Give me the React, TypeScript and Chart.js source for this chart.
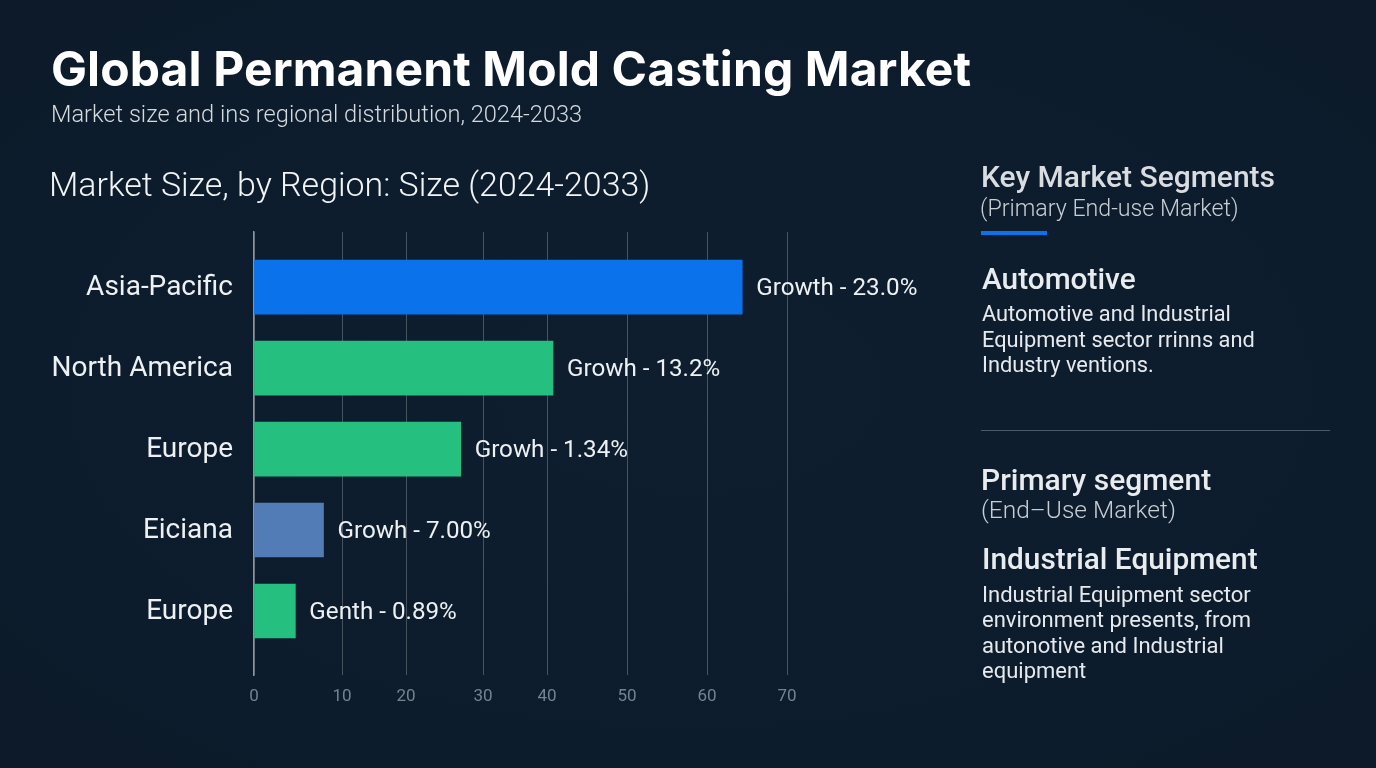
import { useEffect, useRef } from 'react';
import { Chart, LinearScale, registerables } from 'chart.js';

const regions = ['Asia-Pacific', 'North America', 'Europe', 'Eiciana', 'Europe'];
const marketSize = [64.4, 40.75, 27.1, 7.9, 4.7];
const growthLabels = ['Growth - 23.0%', 'Growh - 13.2%', 'Growh - 1.34%', 'Growh - 7.00%', 'Genth - 0.89%'];
const barColors = ['#0a72ea', '#25bf80', '#25bf80', '#527cb5', '#25bf80'];
const tickValues = [0, 10, 20, 30, 40, 50, 60, 70];

// the axis in the picture is not evenly spaced, these are the pixel offsets of its ticks
const tickOffsets = [0, 88, 152, 229, 293, 373, 453, 533];

const automotiveLines = ['Automotive and Industrial', 'Equipment sector rrinns and', 'Industry ventions.'];
const industrialLines = ['Industrial Equipment sector', 'environment presents, from', 'autonotive and Industrial', 'equipment'];

class UnevenScale extends LinearScale {
    static id = 'uneven';
    static defaults = LinearScale.defaults;

    getPixelForValue(value: number) {
        const step = Math.min(Math.max(Math.floor(value / 10), 0), tickOffsets.length - 2);
        const offset = tickOffsets[step] + ((value - step * 10) / 10) * (tickOffsets[step + 1] - tickOffsets[step]);
        return this.left + offset;
    }
}

Chart.register(...registerables, UnevenScale);

const growthLabelPlugin = {
    id: 'growthLabels',
    afterDatasetsDraw(chart: any) {
        const { ctx } = chart;
        ctx.save();
        ctx.font = '400 24.2px Roboto';
        ctx.fillStyle = '#eef1f4';
        ctx.textAlign = 'left';
        ctx.textBaseline = 'middle';
        chart.getDatasetMeta(0).data.forEach((bar: any, i: number) => {
            ctx.fillText(growthLabels[i], bar.x + 14, bar.y + 1.5);
        });
        ctx.restore();
    },
};

const Text = ({ x, y, size, weight = 400, color = '#e6e9ed', font = 'Roboto', spacing = 0, children }: any) => (
    <div
        style={{
            position: 'absolute',
            left: x,
            top: y - 20,
            height: 40,
            lineHeight: '40px',
            fontFamily: font,
            fontSize: size,
            fontWeight: weight,
            color,
            letterSpacing: spacing,
            whiteSpace: 'nowrap',
        }}
    >
        {children}
    </div>
);

const App = () => {
    const chartRef = useRef<HTMLCanvasElement>(null);

    useEffect(() => {
        document.body.style.margin = '0';
        if (!chartRef.current) return;
        const chart = new Chart(chartRef.current, {
            type: 'bar',
            data: {
                datasets: [
                    {
                        data: marketSize.map((value, i) => ({ x: value, y: i })),
                        backgroundColor: barColors,
                        barThickness: 54,
                    },
                ],
            },
            options: {
                indexAxis: 'y',
                animation: false,
                responsive: false,
                layout: { padding: { top: 232, right: 589, bottom: 0, left: 0 } },
                plugins: { legend: { display: false }, tooltip: { enabled: false } },
                scales: {
                    x: {
                        type: 'uneven',
                        position: 'bottom',
                        min: 0,
                        max: 70,
                        afterFit: (scale: any) => {
                            scale.height = 93;
                        },
                        afterBuildTicks: (scale: any) => {
                            scale.ticks = tickValues.map((value) => ({ value }));
                        },
                        border: { display: false },
                        grid: { color: 'rgba(255,255,255,0.24)', lineWidth: 1, drawTicks: false },
                        ticks: {
                            color: '#76828f',
                            font: { family: 'Roboto', size: 17 },
                            padding: 12,
                            maxRotation: 0,
                            autoSkip: false,
                        },
                    },
                    y: {
                        type: 'linear',
                        reverse: true,
                        offset: false,
                        min: -0.68,
                        max: 4.79,
                        afterFit: (scale: any) => {
                            scale.width = 254;
                        },
                        afterBuildTicks: (scale: any) => {
                            // nudged a little down so the labels sit level with the bars
                            scale.ticks = regions.map((_, i) => ({ value: i + 0.015 }));
                        },
                        border: { color: '#8b94a0', width: 1.5 },
                        grid: { display: false, drawTicks: false },
                        ticks: {
                            color: '#eef1f4',
                            font: { family: 'Roboto', size: 28, weight: 400 },
                            padding: 21,
                            autoSkip: false,
                            callback: (value: any) => regions[Math.round(value)],
                        },
                    },
                },
            },
            plugins: [growthLabelPlugin],
        } as any);
        return () => chart.destroy();
    }, []);

    return (
        <div
            style={{
                position: 'absolute',
                left: 0,
                top: 0,
                width: 1376,
                height: 768,
                overflow: 'hidden',
                background: 'radial-gradient(ellipse at 50% 50%, #0e1e2f 0%, #0d1c2c 70%, #0c1a29 100%)',
            }}
        >
            <canvas ref={chartRef} width={1376} height={768} style={{ position: 'absolute', left: 0, top: 0 }} />

            <Text x={51} y={69} size={48} weight={700} color="#ffffff" font="Inter" spacing={0.1}>Global Permanent Mold Casting Market</Text>
            <Text x={51} y={114} size={23.6} weight={300} color="#d5dade">Market size and ins regional distribution, 2024-2033</Text>
            <Text x={49} y={185} size={33.9} weight={300} color="#f2f4f6">Market Size, by Region: Size (2024-2033)</Text>

            <Text x={981} y={177} size={30} weight={500} color="#d9dde2">Key Market Segments</Text>
            <Text x={980} y={208} size={23.2} weight={300} color="#c9ced4">(Primary End-use Market)</Text>
            <div style={{ position: 'absolute', left: 981, top: 231, width: 66, height: 4, background: '#0a72ea' }} />
            <Text x={982} y={279} size={29.8} weight={500} color="#e9ecef">Automotive</Text>
            {automotiveLines.map((line, i) => (
                <Text key={i} x={982} y={314 + i * 25.5} size={21.8} weight={400}>{line}</Text>
            ))}

            <div style={{ position: 'absolute', left: 981, top: 430, width: 349, height: 1, background: '#4c5967' }} />

            <Text x={981} y={480} size={30} weight={500} color="#e9ecef">Primary segment</Text>
            <Text x={981} y={510} size={24.5} weight={300} color="#c9ced4">(End–Use Market)</Text>
            <Text x={982} y={559} size={29.8} weight={500} color="#e9ecef">Industrial Equipment</Text>
            {industrialLines.map((line, i) => (
                <Text key={i} x={982} y={595 + i * 25.3} size={22} weight={400}>{line}</Text>
            ))}
        </div>
    );
};

export default App;
